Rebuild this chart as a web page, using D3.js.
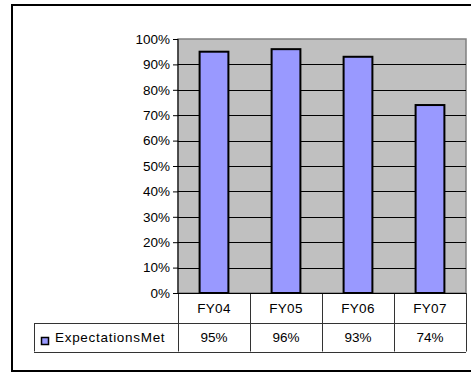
<!DOCTYPE html>
<html>
<head>
<meta charset="utf-8">
<script src="https://cdn.jsdelivr.net/npm/d3@7"></script>
<style>
  html, body { margin: 0; padding: 0; background: #fff; }
  svg { display: block; font-family: "Liberation Sans", Arial, sans-serif; }
</style>
</head>
<body>
<svg id="chart" width="471" height="373"></svg>
<script>
// Fiscal years and share of expectations met
const categories = ["FY04", "FY05", "FY06", "FY07"];
const seriesName = "ExpectationsMet";
const expectationsMet = [0.95, 0.96, 0.93, 0.74];
const yTicks = [0, 0.1, 0.2, 0.3, 0.4, 0.5, 0.6, 0.7, 0.8, 0.9, 1.0];

const svg = d3.select("#chart");
const fontSize = 13.5;

// Plot box
const plot = { left: 178, top: 39, right: 466, bottom: 293 };
const tableRow1 = 323, tableRow2 = 351.5, legendLeft = 34;

// Outer frame
svg.append("rect")
  .attr("x", 12).attr("y", 5)
  .attr("width", 470).attr("height", 366)
  .attr("fill", "#fff").attr("stroke", "#000").attr("stroke-width", 2);

const x = d3.scaleBand()
  .domain(categories)
  .range([plot.left, plot.right])
  .paddingInner(0.6)
  .paddingOuter(0.3);

const y = d3.scaleLinear()
  .domain([0, 1])
  .range([plot.bottom, plot.top]);

// Plot background
svg.append("rect")
  .attr("x", plot.left).attr("y", plot.top)
  .attr("width", plot.right - plot.left).attr("height", plot.bottom - plot.top)
  .attr("fill", "#c0c0c0")
  .attr("stroke", "#808080").attr("stroke-width", 1.5);

// Horizontal gridlines
svg.append("g")
  .selectAll("line")
  .data(yTicks.filter(t => t > 0 && t < 1))
  .join("line")
  .attr("x1", plot.left).attr("x2", plot.right)
  .attr("y1", d => Math.round(y(d)) + 0.5).attr("y2", d => Math.round(y(d)) + 0.5)
  .attr("stroke", "#000").attr("stroke-width", 1);

// Bars
svg.append("g")
  .selectAll("rect")
  .data(expectationsMet)
  .join("rect")
  .attr("x", (d, i) => x(categories[i]))
  .attr("y", d => y(d))
  .attr("width", x.bandwidth())
  .attr("height", d => plot.bottom - y(d))
  .attr("fill", "#9999ff")
  .attr("stroke", "#000").attr("stroke-width", 2);

// Y axis
const yAxis = d3.axisLeft(y)
  .tickValues(yTicks)
  .tickFormat(d3.format(".0%"))
  .tickSize(5)
  .tickPadding(3);

const yg = svg.append("g")
  .attr("transform", `translate(${plot.left},0)`)
  .call(yAxis);
yg.select(".domain").attr("stroke", "#000").attr("d", `M0,${plot.top}V${plot.bottom}`);
yg.selectAll(".tick line").attr("stroke", "#000");
yg.selectAll(".tick text")
  .attr("font-size", fontSize)
  .attr("fill", "#000")
  .attr("font-family", "Liberation Sans, Arial, sans-serif");

// Data table beneath the plot
const table = svg.append("g").attr("stroke", "#333").attr("stroke-width", 1).attr("fill", "none");
const colEdges = categories.map(c => x(c) - x.step() * 0.3).concat([plot.right]);
// vertical separators
colEdges.forEach(cx => {
  table.append("line")
    .attr("x1", Math.round(cx) + 0.5).attr("x2", Math.round(cx) + 0.5)
    .attr("y1", plot.bottom).attr("y2", tableRow2);
});
table.append("line")
  .attr("x1", legendLeft + 0.5).attr("x2", legendLeft + 0.5)
  .attr("y1", tableRow1).attr("y2", tableRow2);
// horizontal rules
[tableRow1, tableRow2].forEach(ry => {
  table.append("line")
    .attr("x1", legendLeft).attr("x2", plot.right)
    .attr("y1", Math.round(ry) + 0.5).attr("y2", Math.round(ry) + 0.5);
});
table.append("line")
  .attr("x1", plot.left).attr("x2", plot.right)
  .attr("y1", plot.bottom + 0.5).attr("y2", plot.bottom + 0.5)
  .attr("stroke", "#000");

// Category labels row
svg.append("g")
  .selectAll("text")
  .data(categories)
  .join("text")
  .attr("x", d => x(d) + x.bandwidth() / 2)
  .attr("y", (plot.bottom + tableRow1) / 2 + 5)
  .attr("text-anchor", "middle")
  .attr("font-size", fontSize)
  .attr("letter-spacing", "0.3px")
  .text(d => d);

// Value row
const pct = d3.format(".0%");
svg.append("g")
  .selectAll("text")
  .data(expectationsMet)
  .join("text")
  .attr("x", (d, i) => x(categories[i]) + x.bandwidth() / 2)
  .attr("y", (tableRow1 + tableRow2) / 2 + 5)
  .attr("text-anchor", "middle")
  .attr("font-size", fontSize)
  .text(d => pct(d));

// Legend key in the table
svg.append("rect")
  .attr("x", 41.5).attr("y", 337.5)
  .attr("width", 7).attr("height", 7)
  .attr("fill", "#9999ff")
  .attr("stroke", "#000").attr("stroke-width", 1.5);
svg.append("text")
  .attr("x", 55)
  .attr("y", (tableRow1 + tableRow2) / 2 + 5)
  .attr("font-size", fontSize)
  .attr("letter-spacing", "0.7px")
  .text(seriesName);
</script>
</body>
</html>
